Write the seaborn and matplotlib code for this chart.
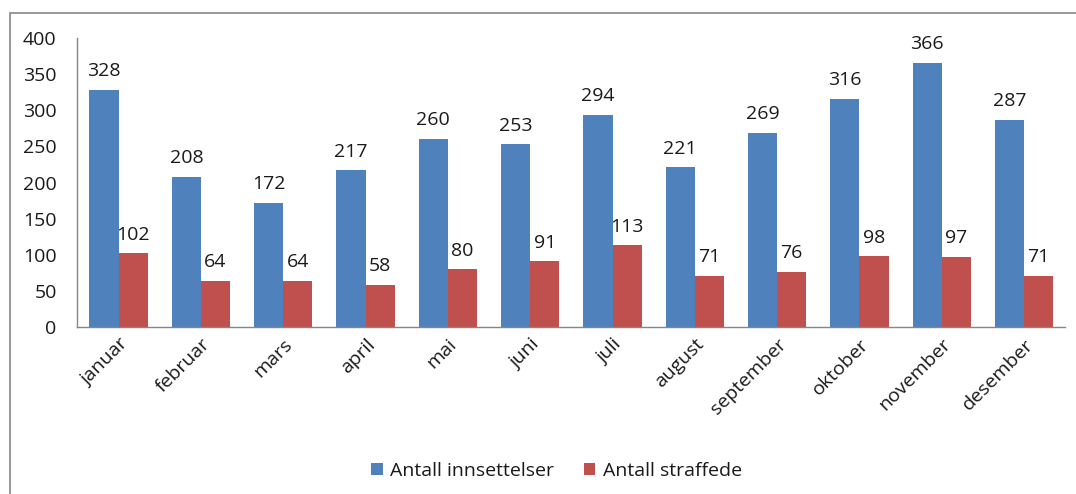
import pandas as pd
import matplotlib
matplotlib.use('Agg')
import matplotlib.pyplot as plt
import seaborn as sns
from matplotlib.patches import Rectangle

months = ['januar', 'februar', 'mars', 'april', 'mai', 'juni', 'juli',
          'august', 'september', 'oktober', 'november', 'desember']
innsettelser = [328, 208, 172, 217, 260, 253, 294, 221, 269, 316, 366, 287]
straffede = [102, 64, 64, 58, 80, 91, 113, 71, 76, 98, 97, 71]
series_names = ['Antall innsettelser', 'Antall straffede']
colors = ['#4F81BD', '#C0504D']

df = pd.DataFrame({
    'month': months * 2,
    'value': innsettelser + straffede,
    'series': [series_names[0]] * 12 + [series_names[1]] * 12,
})

sns.set_style('white')
plt.rcParams['font.family'] = ['Open Sans', 'DejaVu Sans']

fig = plt.figure(figsize=(10.76, 4.94), dpi=100)
ax = fig.add_axes([0.072, 0.338, 0.918, 0.585])

sns.barplot(data=df, x='month', y='value', hue='series', palette=colors,
            width=0.71, saturation=1, linewidth=0, ax=ax, legend=True)

for cont in ax.containers:
    ax.bar_label(cont, padding=7, fontsize=14, color='#1a1a1a')

ax.set_ylim(0, 400)
ax.set_yticks(range(0, 401, 50))
ax.set_xlim(-0.5, 11.5)
ax.set_xlabel('')
ax.set_ylabel('')
ax.tick_params(axis='y', labelsize=14, length=0, pad=15, labelcolor='#1a1a1a')
ax.tick_params(axis='x', labelsize=14, length=0, pad=6, labelcolor='#1a1a1a')
for lbl in ax.get_xticklabels():
    lbl.set_rotation(45)
    lbl.set_ha('right')
    lbl.set_rotation_mode('anchor')

for side in ['top', 'right']:
    ax.spines[side].set_visible(False)
for side in ['left', 'bottom']:
    ax.spines[side].set_color('#868686')
    ax.spines[side].set_linewidth(1)

ax.legend(loc='upper center', bbox_to_anchor=(0.485, -0.405), ncol=2, frameon=False,
          fontsize=14, handlelength=0.6, handleheight=0.6, columnspacing=1.5,
          handletextpad=0.4, labelcolor='#1a1a1a')

fig.patches.append(Rectangle((0.009, -0.05), 1.2, 1.024, transform=fig.transFigure,
                             fill=False, edgecolor='#868686', linewidth=1.2))

fig.savefig('out.png', dpi=100)
